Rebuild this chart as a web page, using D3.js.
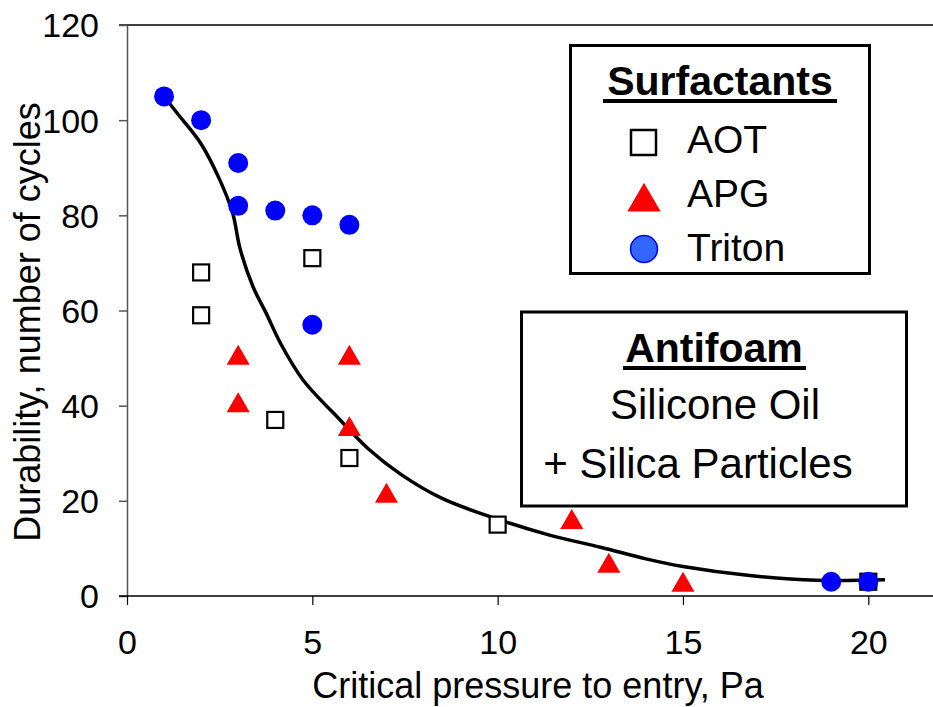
<!DOCTYPE html>
<html>
<head>
<meta charset="utf-8">
<script src="https://cdn.jsdelivr.net/npm/d3@7"></script>
<style>
  body { margin: 0; background: #fff; }
  svg text { font-family: "Liberation Sans", Arial, sans-serif; fill: #000; }
</style>
</head>
<body>
<svg width="933" height="707"></svg>
<script>

// data
const aotData = [[2, 68], [2, 59], [5, 71], [4, 37], [6, 29], [10, 15], [20, 3]];
const apgData = [[3, 50], [3, 40], [6, 50], [6, 35], [7, 21], [12, 15.5], [13, 6.3], [15, 2.3]];
const tritonData = [[1, 105], [2, 100], [3, 91], [3, 82], [4, 81], [5, 80], [6, 78], [5, 57], [19, 3], [20, 3]];
const fitCurve = [[0.9, 106], [1.35, 101.5], [2.0, 95], [2.5, 87.5], [2.85, 80.5], [3.05, 73], [3.4, 65],
  [3.75, 59.5], [4.15, 53], [4.75, 45.4], [5.75, 37], [6.5, 31], [7.4, 25.5], [8.5, 20.5], [10.05, 16],
  [11.4, 12.8], [12.8, 10.2], [14, 7.8], [15, 6.2], [16.8, 4.3], [18.6, 3.3], [20.45, 3.4]];

const xTicks = [0, 5, 10, 15, 20];
const yTicks = [0, 20, 40, 60, 80, 100, 120];
const legendItems = ["AOT", "APG", "Triton"];
const antifoamLines = ["Silicone Oil", "+ Silica Particles"];

const svg = d3.select("svg"),
  width = +svg.attr("width"),
  height = +svg.attr("height");

const x = d3.scaleLinear().domain([0, 20]).range([127, 868.3]);
const y = d3.scaleLinear().domain([0, 120]).range([596, 25]);

// top border line
svg.append("line")
  .attr("x1", 119).attr("x2", width)
  .attr("y1", y(120)).attr("y2", y(120))
  .attr("stroke", "#000").attr("stroke-width", 1.5);

// y axis
const yAxis = svg.append("g")
  .attr("transform", `translate(${x(0)},0)`)
  .call(d3.axisLeft(y).tickValues(yTicks).tickSize(8).tickSizeOuter(0).tickPadding(20));
yAxis.select(".domain").attr("stroke", "#555").attr("stroke-width", 1.5);
yAxis.selectAll(".tick line").attr("stroke", "#555").attr("stroke-width", 1.5);
yAxis.selectAll("text").style("font-size", "34px").attr("dy", "0.35em");

// x axis
const xAxis = svg.append("g")
  .attr("transform", `translate(0,${y(0)})`)
  .call(d3.axisBottom(x).tickValues(xTicks).tickSize(9).tickSizeOuter(0).tickPadding(25));
xAxis.select(".domain").remove();
xAxis.selectAll(".tick line").attr("stroke", "#000").attr("stroke-width", 1.2);
xAxis.selectAll("text").style("font-size", "34px").attr("dy", "0.71em");
svg.append("line")
  .attr("x1", x(0) - 8).attr("x2", width)
  .attr("y1", y(0)).attr("y2", y(0))
  .attr("stroke", "#000").attr("stroke-width", 1.5);

// axis titles
svg.append("text")
  .attr("x", 538).attr("y", 698)
  .attr("text-anchor", "middle")
  .style("font-size", "36px")
  .text("Critical pressure to entry, Pa");

svg.append("text")
  .attr("transform", "translate(40,322) rotate(-90)")
  .attr("text-anchor", "middle")
  .style("font-size", "36px")
  .text("Durability, number of cycles");

// fitted line
svg.append("path")
  .datum(fitCurve)
  .attr("fill", "none")
  .attr("stroke", "#000")
  .attr("stroke-width", 3.5)
  .attr("d", d3.line().x(d => x(d[0])).y(d => y(d[1])).curve(d3.curveCatmullRom.alpha(0.5)));

// markers
svg.append("g").selectAll("rect")
  .data(aotData)
  .join("rect")
  .attr("x", d => x(d[0]) - 8).attr("y", d => y(d[1]) - 8)
  .attr("width", 16).attr("height", 16)
  .attr("fill", "#fff").attr("stroke", "#000").attr("stroke-width", 2.2);

const tri = d3.symbol().type(d3.symbolTriangle).size(230);
svg.append("g").selectAll("path")
  .data(apgData)
  .join("path")
  .attr("transform", d => `translate(${x(d[0])},${y(d[1])})`)
  .attr("d", tri)
  .attr("fill", "#ff0000");

svg.append("g").selectAll("circle")
  .data(tritonData)
  .join("circle")
  .attr("cx", d => x(d[0])).attr("cy", d => y(d[1]))
  .attr("r", 10)
  .attr("fill", "#0000ff");

// surfactants legend
const leg = svg.append("g");
leg.append("rect")
  .attr("x", 570.5).attr("y", 45.5).attr("width", 299).attr("height", 228)
  .attr("fill", "#fff").attr("stroke", "#000").attr("stroke-width", 3);
leg.append("text")
  .attr("x", 720).attr("y", 95).attr("text-anchor", "middle")
  .style("font-size", "41px").style("font-weight", "bold")
  .text("Surfactants");
leg.append("rect")
  .attr("x", 603).attr("y", 99).attr("width", 234).attr("height", 4).attr("fill", "#000");

const rowY = [153, 207, 261];
leg.selectAll(".item")
  .data(legendItems)
  .join("text")
  .attr("class", "item")
  .attr("x", 687).attr("y", (d, i) => rowY[i])
  .style("font-size", "39px")
  .text(d => d);

leg.append("rect")
  .attr("x", 631).attr("y", 130).attr("width", 25).attr("height", 25)
  .attr("fill", "#fff").attr("stroke", "#000").attr("stroke-width", 2.5);
leg.append("path")
  .attr("transform", "translate(644,202)")
  .attr("d", d3.symbol().type(d3.symbolTriangle).size(480))
  .attr("fill", "#ff0000");
leg.append("circle")
  .attr("cx", 644).attr("cy", 249).attr("r", 13.5)
  .attr("fill", "#3366ff").attr("stroke", "#0000ff").attr("stroke-width", 1.5);

// antifoam box
const af = svg.append("g");
af.append("rect")
  .attr("x", 521.5).attr("y", 312).attr("width", 385).attr("height", 194)
  .attr("fill", "#fff").attr("stroke", "#000").attr("stroke-width", 3);
af.append("text")
  .attr("x", 714).attr("y", 362).attr("text-anchor", "middle")
  .style("font-size", "41px").style("font-weight", "bold")
  .text("Antifoam");
af.append("rect")
  .attr("x", 623).attr("y", 366).attr("width", 183).attr("height", 4).attr("fill", "#000");
af.selectAll(".line")
  .data(antifoamLines)
  .join("text")
  .attr("class", "line")
  .attr("x", (d, i) => i ? 698 : 715)
  .attr("y", (d, i) => i ? 478 : 419)
  .attr("text-anchor", "middle")
  .style("font-size", "42px")
  .text(d => d);

</script>
</body>
</html>
